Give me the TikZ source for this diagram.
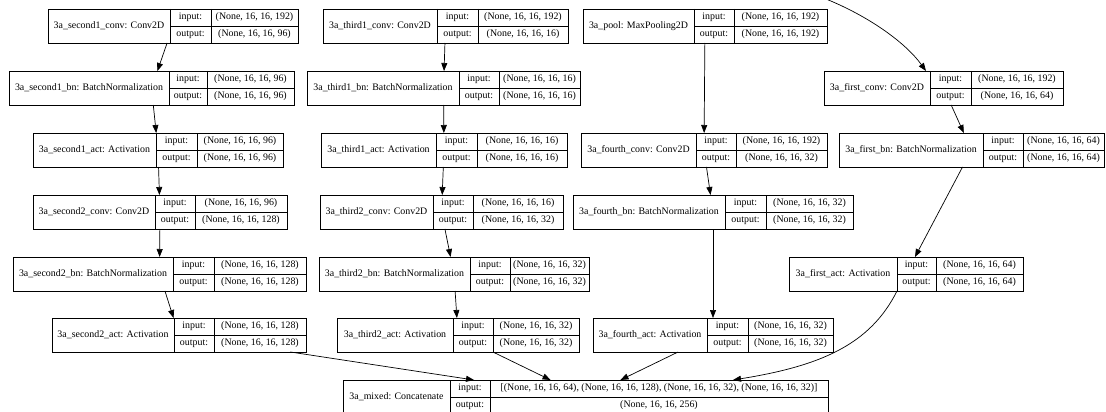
\documentclass[tikz,border=0pt]{standalone}
\usepackage{fontspec}
\setmainfont{Liberation Serif}
\usetikzlibrary{fit,arrows.meta}
\tikzset{
  recbox/.style={draw=black, line width=0.7pt, inner sep=0pt, outer sep=0pt},
  recline/.style={draw=black, line width=0.7pt},
  rectxt/.style={inner sep=0pt, font=\fontsize{9.9}{11}\selectfont, text=black},
  arr/.style={draw=black, line width=0.7pt, -{Triangle[length=8pt,width=6pt]}}
}
\newcommand\krec[9]{%
  \node[recbox, fit={(#2,#6) (#5,#6+34)}] (#1) {};
  \draw[recline] (#3,#6) -- (#3,#6+34) (#4,#6) -- (#4,#6+34) (#3,#6+17) -- (#5,#6+17);
  \node[rectxt] (#1-n) at ({(#2+#3)/2},#6+17) {#7};
  \node[rectxt] (#1-il) at ({(#3+#4)/2},#6+8.5) {input:};
  \node[rectxt] (#1-ol) at ({(#3+#4)/2},#6+25.5) {output:};
  \node[rectxt] (#1-iv) at ({(#4+#5)/2},#6+8.5) {#8};
  \node[rectxt] (#1-ov) at ({(#4+#5)/2},#6+25.5) {#9};
}
\begin{document}
\begin{tikzpicture}[x=1pt,y=-1pt]
\useasboundingbox (0,0) rectangle (1106,412);
\clip (0,0) rectangle (1106,412);
\fill[white] (0,0) rectangle (1106,412);
% row 1
\krec{sc1}{48}{170}{211}{298}{9}{3a\_second1\_conv: Conv2D}{(None, 16, 16, 192)}{(None, 16, 16, 96)}
\krec{tc1}{323}{437}{478}{568}{9}{3a\_third1\_conv: Conv2D}{(None, 16, 16, 192)}{(None, 16, 16, 16)}
\krec{pool}{583}{694}{734}{827}{9}{3a\_pool: MaxPooling2D}{(None, 16, 16, 192)}{(None, 16, 16, 192)}
% row 2
\krec{sb1}{9}{169}{207}{294}{71}{3a\_second1\_bn: BatchNormalization}{(None, 16, 16, 96)}{(None, 16, 16, 96)}
\krec{tb1}{307}{459}{499}{580}{71}{3a\_third1\_bn: BatchNormalization}{(None, 16, 16, 16)}{(None, 16, 16, 16)}
\krec{fc}{824}{930}{971}{1063}{71}{3a\_first\_conv: Conv2D}{(None, 16, 16, 192)}{(None, 16, 16, 64)}
% row 3
\krec{sa1}{33}{156}{197}{283}{133}{3a\_second1\_act: Activation}{(None, 16, 16, 96)}{(None, 16, 16, 96)}
\krec{ta1}{321}{436}{477}{567}{133}{3a\_third1\_act: Activation}{(None, 16, 16, 16)}{(None, 16, 16, 16)}
\krec{fcv}{581}{696}{736}{827}{133}{3a\_fourth\_conv: Conv2D}{(None, 16, 16, 192)}{(None, 16, 16, 32)}
\krec{fb}{839}{983}{1023}{1104}{133}{3a\_first\_bn: BatchNormalization}{(None, 16, 16, 64)}{(None, 16, 16, 64)}
% row 4
\krec{sc2}{33}{155}{195}{287}{195}{3a\_second2\_conv: Conv2D}{(None, 16, 16, 96)}{(None, 16, 16, 128)}
\krec{tc2}{320}{433}{473}{563}{195}{3a\_third2\_conv: Conv2D}{(None, 16, 16, 16)}{(None, 16, 16, 32)}
\krec{fbn}{573}{725}{766}{853}{195}{3a\_fourth\_bn: BatchNormalization}{(None, 16, 16, 32)}{(None, 16, 16, 32)}
% row 5
\krec{sb2}{13}{173}{214}{306}{257}{3a\_second2\_bn: BatchNormalization}{(None, 16, 16, 128)}{(None, 16, 16, 128)}
\krec{tb2}{319}{470}{510}{589}{257}{3a\_third2\_bn: BatchNormalization}{(None, 16, 16, 32)}{(None, 16, 16, 32)}
\krec{fa}{789}{897}{936}{1023}{257}{3a\_first\_act: Activation}{(None, 16, 16, 64)}{(None, 16, 16, 64)}
% row 6
\krec{sa2}{52}{174}{214}{306}{318}{3a\_second2\_act: Activation}{(None, 16, 16, 128)}{(None, 16, 16, 128)}
\krec{ta2}{337}{453}{493}{579}{318}{3a\_third2\_act: Activation}{(None, 16, 16, 32)}{(None, 16, 16, 32)}
\krec{fact}{593}{707}{748}{833}{318}{3a\_fourth\_act: Activation}{(None, 16, 16, 32)}{(None, 16, 16, 32)}
% row 7
\krec{mix}{343}{450}{490}{828}{380}{3a\_mixed: Concatenate}{[(None, 16, 16, 64), (None, 16, 16, 128), (None, 16, 16, 32), (None, 16, 16, 32)]}{(None, 16, 16, 256)}
% edges
\draw[arr] (sc1) -- (sb1);
\draw[arr] (sb1) -- (sa1);
\draw[arr] (sa1) -- (sc2);
\draw[arr] (sc2) -- (sb2);
\draw[arr] (sb2) -- (sa2);
\draw[arr] (sa2) -- (mix);
\draw[arr] (tc1) -- (tb1);
\draw[arr] (tb1) -- (ta1);
\draw[arr] (ta1) -- (tc2);
\draw[arr] (tc2) -- (tb2);
\draw[arr] (tb2) -- (ta2);
\draw[arr] (ta2) -- (mix);
\draw[arr] (pool) -- (fcv);
\draw[arr] (fcv) -- (fbn);
\draw[arr] (fbn) -- (fact);
\draw[arr] (fact) -- (mix);
\draw[arr] (fc) -- (fb);
\draw[arr] (fb) -- (fa);
\draw[arr] ([xshift=-9pt]fa.south) .. controls (870,345) and (820,366) .. ([xshift=147.5pt]mix.north);
\coordinate (inp) at (826,-1);
\draw[arr] (inp) .. controls (868,16) and (905,42) .. ([xshift=-17.5pt]fc.north);
\end{tikzpicture}
\end{document}
